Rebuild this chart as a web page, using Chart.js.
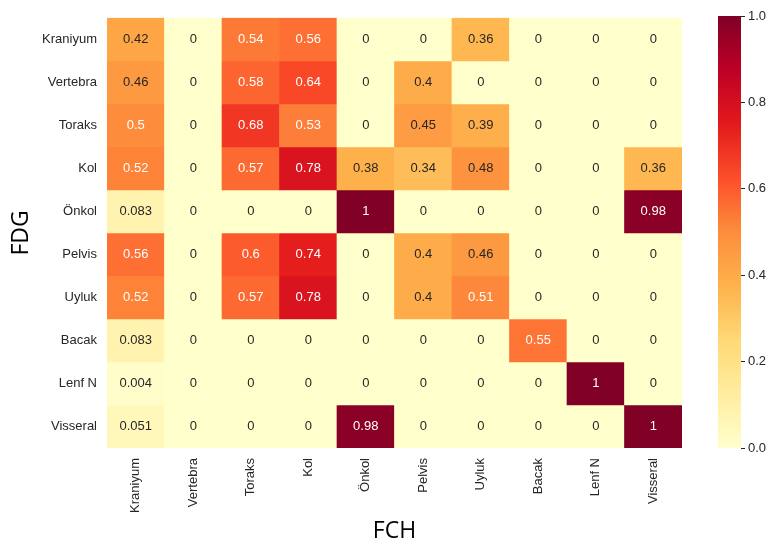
<!DOCTYPE html>
<html>
<head>
<meta charset="utf-8">
<script src="https://cdn.jsdelivr.net/npm/chart.js@4/dist/chart.umd.min.js"></script>
<style>
  html, body { margin: 0; padding: 0; background: #ffffff; }
  #wrap { position: relative; width: 768px; height: 544px; }
  canvas { position: absolute; left: 0; top: 0; }
</style>
</head>
<body>
<div id="wrap">
  <canvas id="heat" width="768" height="544"></canvas>
  <canvas id="cbar" width="768" height="544"></canvas>
</div>
<script>
// FCH categories (columns) and FDG categories (rows)
const fchLabels = ['Kraniyum','Vertebra','Toraks','Kol','Önkol','Pelvis','Uyluk','Bacak','Lenf N','Visseral'];
const fdgLabels = ['Kraniyum','Vertebra','Toraks','Kol','Önkol','Pelvis','Uyluk','Bacak','Lenf N','Visseral'];

// One row of values per FDG category
const rowKraniyum = [0.42, 0, 0.54, 0.56, 0, 0, 0.36, 0, 0, 0];
const rowVertebra = [0.46, 0, 0.58, 0.64, 0, 0.4, 0, 0, 0, 0];
const rowToraks   = [0.5, 0, 0.68, 0.53, 0, 0.45, 0.39, 0, 0, 0];
const rowKol      = [0.52, 0, 0.57, 0.78, 0.38, 0.34, 0.48, 0, 0, 0.36];
const rowOnkol    = [0.083, 0, 0, 0, 1, 0, 0, 0, 0, 0.98];
const rowPelvis   = [0.56, 0, 0.6, 0.74, 0, 0.4, 0.46, 0, 0, 0];
const rowUyluk    = [0.52, 0, 0.57, 0.78, 0, 0.4, 0.51, 0, 0, 0];
const rowBacak    = [0.083, 0, 0, 0, 0, 0, 0, 0.55, 0, 0];
const rowLenfN    = [0.004, 0, 0, 0, 0, 0, 0, 0, 1, 0];
const rowVisseral = [0.051, 0, 0, 0, 0.98, 0, 0, 0, 0, 1];

const colorbarTicks = [0, 0.2, 0.4, 0.6, 0.8, 1.0];

const grid = [rowKraniyum, rowVertebra, rowToraks, rowKol, rowOnkol, rowPelvis, rowUyluk, rowBacak, rowLenfN, rowVisseral];

// YlOrRd colormap
const ylOrRd = ['#ffffcc','#ffeda0','#fed976','#feb24c','#fd8d3c','#fc4e2a','#e31a1c','#bd0026','#800026'];
function hexToRgb(h) { return [parseInt(h.slice(1,3),16), parseInt(h.slice(3,5),16), parseInt(h.slice(5,7),16)]; }
const stopRgb = ylOrRd.map(hexToRgb);
function cmapRgb(v) {
  const t = Math.max(0, Math.min(1, v)) * (stopRgb.length - 1);
  const i = Math.min(Math.floor(t), stopRgb.length - 2);
  const f = t - i;
  const a = stopRgb[i], b = stopRgb[i + 1];
  return [0,1,2].map(k => Math.round(a[k] + (b[k] - a[k]) * f));
}
function cmap(v) { const c = cmapRgb(v); return `rgb(${c[0]},${c[1]},${c[2]})`; }
function luminance(rgb) {
  const l = rgb.map(c => { c /= 255; return c <= 0.03928 ? c / 12.92 : Math.pow((c + 0.055) / 1.055, 2.4); });
  return 0.2126 * l[0] + 0.7152 * l[1] + 0.0722 * l[2];
}
function fmt(v) { return String(parseFloat(v.toPrecision(2))); }

const FONT = "'Liberation Sans', Arial, sans-serif";
const TITLE_FONT = "'Open Sans', 'Liberation Sans', sans-serif";
const TEXT = '#262626';

const annotatePlugin = {
  id: 'annotate',
  afterDatasetsDraw(chart) {
    const ctx = chart.ctx;
    ctx.save();
    ctx.font = `13px ${FONT}`;
    ctx.textAlign = 'center';
    ctx.textBaseline = 'middle';
    chart.data.datasets.forEach((ds, di) => {
      const meta = chart.getDatasetMeta(di);
      meta.data.forEach((el, j) => {
        const v = ds.heat[j];
        const p = el.getCenterPoint();
        ctx.fillStyle = luminance(cmapRgb(v)) > 0.408 ? TEXT : '#ffffff';
        ctx.fillText(fmt(v), p.x, p.y);
      });
    });
    ctx.restore();
  }
};

new Chart(document.getElementById('heat'), {
  type: 'bar',
  data: {
    labels: fchLabels,
    datasets: fdgLabels.map((name, i) => ({
      label: name,
      data: fchLabels.map(() => [i, i + 1]),
      heat: grid[i],
      backgroundColor: grid[i].map(cmap),
      borderWidth: 0,
      grouped: false,
      barPercentage: 1,
      categoryPercentage: 1
    }))
  },
  options: {
    responsive: false,
    animation: false,
    layout: { padding: { left: 0, top: 16, right: 86, bottom: 0 } },
    plugins: { legend: { display: false }, tooltip: { enabled: false } },
    scales: {
      x: {
        type: 'category',
        grid: { display: false, drawTicks: false },
        border: { display: false },
        ticks: { autoSkip: false, minRotation: 90, maxRotation: 90, padding: 10, color: TEXT, font: { family: FONT, size: 13 } },
        title: { display: true, text: 'FCH', color: '#000', font: { family: TITLE_FONT, size: 23, lineHeight: 1 }, padding: { top: 0, bottom: 1 } },
        afterFit(s) { s.height = 96; }
      },
      y: {
        type: 'linear',
        min: 0,
        max: fdgLabels.length,
        reverse: true,
        grid: { display: false, drawTicks: false },
        border: { display: false },
        afterBuildTicks(s) { s.ticks = fdgLabels.map((_, i) => ({ value: i + 0.5 })); },
        ticks: { padding: 10, color: TEXT, font: { family: FONT, size: 13 }, callback: (v) => fdgLabels[Math.floor(v)] },
        title: { display: true, text: 'FDG', color: '#000', font: { family: TITLE_FONT, size: 23, lineHeight: 1.2 }, padding: { top: 8, bottom: 0 } },
        afterFit(s) { s.width = 107; }
      }
    }
  },
  plugins: [annotatePlugin]
});

// Colorbar
new Chart(document.getElementById('cbar'), {
  type: 'bar',
  data: {
    labels: ['scale'],
    datasets: [{
      data: [[colorbarTicks[0], colorbarTicks[colorbarTicks.length - 1]]],
      borderWidth: 0,
      barPercentage: 1,
      categoryPercentage: 1,
      backgroundColor(c) {
        const area = c.chart.chartArea;
        if (!area) return ylOrRd[0];
        const g = c.chart.ctx.createLinearGradient(0, area.bottom, 0, area.top);
        ylOrRd.forEach((col, k) => g.addColorStop(k / (ylOrRd.length - 1), col));
        return g;
      }
    }]
  },
  options: {
    responsive: false,
    animation: false,
    layout: { padding: { left: 718, top: 16, right: 0, bottom: 96 } },
    plugins: { legend: { display: false }, tooltip: { enabled: false } },
    scales: {
      x: { display: false },
      y: {
        position: 'right',
        min: 0,
        max: 1,
        grid: { display: true, drawOnChartArea: false, drawTicks: true, tickLength: 4, tickWidth: 1, tickColor: TEXT },
        border: { display: false },
        afterBuildTicks(s) { s.ticks = colorbarTicks.map(v => ({ value: v })); },
        ticks: { padding: 3, color: TEXT, font: { family: FONT, size: 13 }, callback: (v) => v.toFixed(1) },
        afterFit(s) { s.width = 27; }
      }
    }
  }
});
</script>
</body>
</html>
